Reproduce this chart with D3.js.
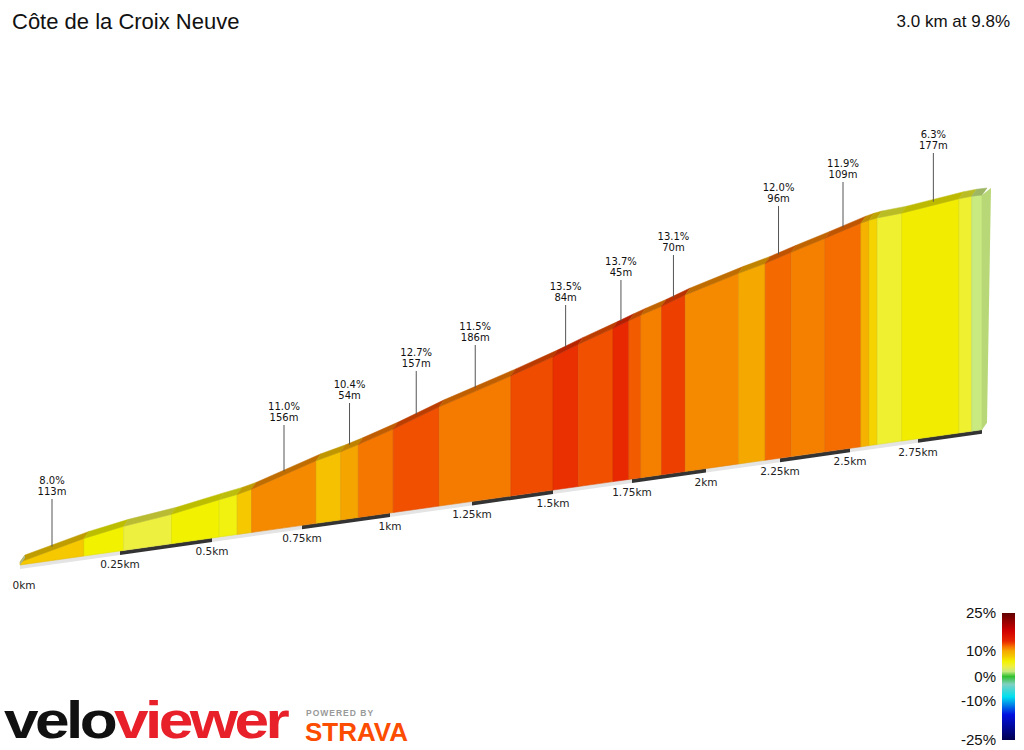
<!DOCTYPE html>
<html><head><meta charset="utf-8">
<script src="https://cdn.jsdelivr.net/npm/d3@7"></script>
<style>body{margin:0;background:#fff}svg{display:block}</style>
</head><body><svg id="c" width="1024" height="750"></svg>
<script>
// Data
const segEnds   = [0.16,0.26,0.39,0.52,0.57,0.61,0.79,0.86,0.91,1.01,1.15,1.37,1.50,1.58,1.69,1.74,1.78,1.85,1.93,2.11,2.20,2.29,2.41,2.54,2.57,2.60,2.69,2.91,2.96,3.00];
const segGrades = [8.0,6.0,4.0,6.0,5.5,8.0,11.0,8.5,10.4,11.6,12.7,11.5,12.8,13.5,12.7,13.7,12.4,11.3,13.1,11.0,10.2,12.0,11.3,11.9,9.5,7.5,4.5,6.3,4.5,2.0];
const tickKm    = [0,0.25,0.5,0.75,1,1.25,1.5,1.75,2,2.25,2.5,2.75,3.0];
const tickLbl   = ["0km","0.25km","0.5km","0.75km","1km","1.25km","1.5km","1.75km","2km","2.25km","2.5km","2.75km",""];
const tickX     = [20,120,212,302,390,472,553,632,706,780,850,918,982];
const noteKm    = [0.08,0.70,0.885,1.08,1.26,1.54,1.715,1.89,2.245,2.475,2.81];
const noteGrade = ["8.0%","11.0%","10.4%","12.7%","11.5%","13.5%","13.7%","13.1%","12.0%","11.9%","6.3%"];
const noteLen   = ["113m","156m","54m","157m","186m","84m","45m","70m","96m","109m","177m"];
const noteY     = [484,410,388,356,330,290,265,240,191,167,138];
const legendPct = [25,10,0,-10,-25];

const svg = d3.select("#c");
const xS = d3.scaleLinear().domain(tickKm).range(tickX);
const baseY = d3.scaleLinear().domain([20,980]).range([565,430]);
const persp = d3.scaleLinear().domain([20,553,980]).range([1.17,0.93,0.80]);
const col = d3.scaleLinear()
  .domain([-25,-15,-8,-3,0,2,4,6,8,10.4,11,12,12.7,13.7,18,25])
  .range(["#000050","#0010e0","#00e0f0","#80d0c0","#30c030","#c8ea80","#eef040","#f2f200","#f5c800","#f5a500","#f58a00","#f56a00","#f05000","#e82800","#d00000","#600000"]);

let pts=[{d:0,e:0}]; let e=0, prev=0;
segEnds.forEach((d,i)=>{e+=(d-prev)*1000*segGrades[i]/100; pts.push({d,e}); prev=d;});
function elevAt(d){for(let i=1;i<pts.length;i++){if(d<=pts[i].d){const a=pts[i-1],b=pts[i];return a.e+(b.e-a.e)*(d-a.d)/(b.d-a.d);}}return pts[pts.length-1].e;}
const P=d=>{const x=xS(d);return {x, yb:baseY(x), yt:baseY(x)-3-elevAt(d)*persp(x)};};
const OX=5, OY=-7;

for(let i=0;i<tickKm.length-1;i++){
  const a=P(tickKm[i]),b=P(tickKm[i+1]);
  svg.append("path").attr("d",`M${a.x},${a.yb}L${b.x},${b.yb}L${b.x},${b.yb+4}L${a.x},${a.yb+4}Z`)
    .attr("fill",i%2? "#333":"#e4e4e4");
}
let prevD=0;
segEnds.forEach((d,i)=>{
  const a=P(prevD),b=P(d);
  const c=col(segGrades[i]);
  svg.append("path").attr("d",`M${a.x},${a.yb}L${b.x},${b.yb}L${b.x},${b.yt}L${a.x},${a.yt}Z`)
    .attr("fill",c).attr("stroke",d3.color(c).darker(0.25)).attr("stroke-width",0.6);
  const tc=d3.color(c).darker(0.7);
  svg.append("path").attr("d",`M${a.x},${a.yt}L${b.x},${b.yt}L${b.x+OX},${b.yt+OY}L${a.x+OX},${a.yt+OY}Z`)
    .attr("fill",tc).attr("stroke",tc).attr("stroke-width",0.5);
  prevD=d;
});
const s0=P(0), s1=P(3.0);
svg.append("path").attr("d",`M${s0.x},${s0.yb}L${s0.x},${s0.yt}L${s0.x+OX},${s0.yt+OY}L${s0.x+OX},${s0.yb+OY}Z`).attr("fill","#a8b890");
svg.append("path").attr("d",`M${s1.x},${s1.yb}L${s1.x},${s1.yt}L${s1.x+OX+4},${s1.yt+OY}L${s1.x+OX},${s1.yb+OY}Z`).attr("fill","#b8d878");

const F="DejaVu Sans, Verdana, sans-serif";
tickKm.forEach((k,i)=>{ if(!tickLbl[i])return; const p=P(k);
  svg.append("text").attr("x",i==0?p.x+4:p.x).attr("y",p.yb+(i==0?24:17)).attr("text-anchor","middle")
   .attr("font-family",F).attr("font-size",10.5).attr("fill","#222").text(tickLbl[i]);});

noteKm.forEach((k,i)=>{const p=P(k);
  svg.append("line").attr("x1",p.x).attr("x2",p.x).attr("y1",noteY[i]+15).attr("y2",p.yt+OY/2).attr("stroke","#555").attr("stroke-width",1);
  svg.append("text").attr("x",p.x).attr("y",noteY[i]).attr("text-anchor","middle").attr("font-family",F).attr("font-size",10).attr("fill","#111").text(noteGrade[i]);
  svg.append("text").attr("x",p.x).attr("y",noteY[i]+11).attr("text-anchor","middle").attr("font-family",F).attr("font-size",10).attr("fill","#111").text(noteLen[i]);
});

svg.append("text").attr("x",12).attr("y",29).attr("font-family","Liberation Sans, Arial").attr("font-size",22).attr("fill","#111").text("Côte de la Croix Neuve");
svg.append("text").attr("x",1010).attr("y",27).attr("text-anchor","end").attr("font-family","Liberation Sans, Arial").attr("font-size",17).attr("fill","#111").text("3.0 km at 9.8%");

const lg=svg.append("defs").append("linearGradient").attr("id","lg").attr("x1",0).attr("x2",0).attr("y1",0).attr("y2",1);
d3.range(25,-25.1,-1).forEach(v=>lg.append("stop").attr("offset",(25-v)/50).attr("stop-color",col(v)));
svg.append("rect").attr("x",1002).attr("y",613).attr("width",13).attr("height",127).attr("fill","url(#lg)");
const lpos={25:618,10:656,0:682,"-10":706,"-25":745};
legendPct.forEach(v=>svg.append("text").attr("x",996).attr("y",lpos[v]).attr("text-anchor","end").attr("font-family","Liberation Sans, Arial").attr("font-size",15).attr("fill","#111").text(v+"%"));

const t=svg.append("text").attr("x",4).attr("y",738).attr("font-family","Liberation Sans, Arial").attr("font-weight","bold").attr("font-size",52).attr("letter-spacing",-3).attr("textLength",282).attr("lengthAdjust","spacingAndGlyphs");
t.append("tspan").attr("fill","#111").text("velo");
t.append("tspan").attr("fill","#e8202a").text("viewer");
svg.append("text").attr("x",306).attr("y",716).attr("font-family","Liberation Sans, Arial").attr("font-weight","bold").attr("font-size",8.5).attr("letter-spacing",1).attr("fill","#999").text("POWERED BY");
svg.append("text").attr("x",305).attr("y",741).attr("font-family","Liberation Sans, Arial").attr("font-weight","bold").attr("font-size",25).attr("textLength",103).attr("lengthAdjust","spacingAndGlyphs").attr("fill","#fc4c02").text("STRAVA");
</script></body></html>
